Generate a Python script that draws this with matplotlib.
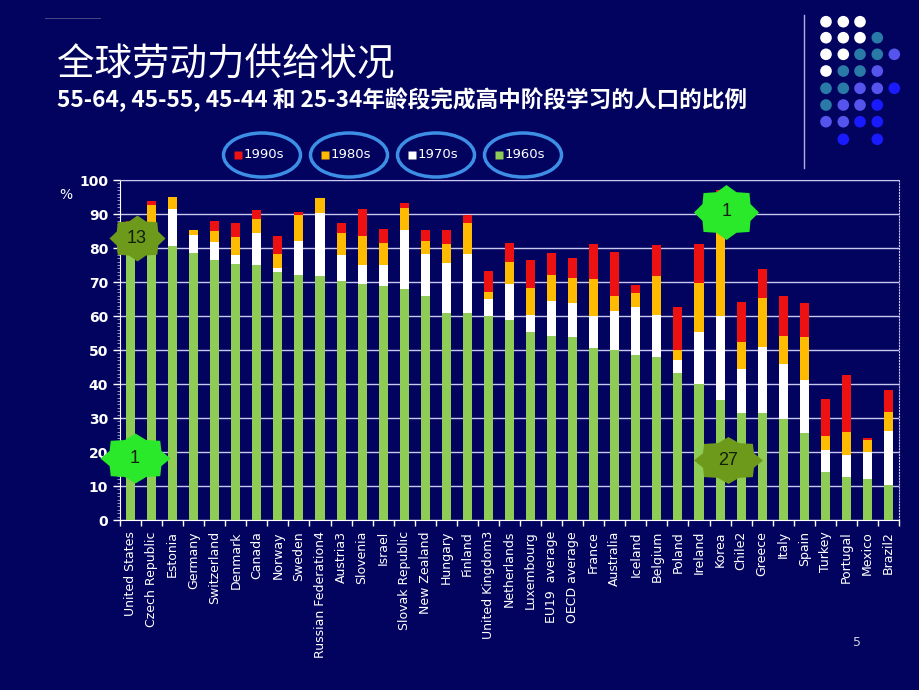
import numpy as np
import matplotlib
matplotlib.use("Agg")
import matplotlib.pyplot as plt
from matplotlib.path import Path
from matplotlib.patches import Ellipse
from matplotlib.ticker import MultipleLocator

plt.rcParams['font.family'] = ['Noto Sans CJK SC', 'DejaVu Sans']

countries = ["United States", "Czech Republic", "Estonia", "Germany", "Switzerland",
             "Denmark", "Canada", "Norway", "Sweden", "Russian Federation4", "Austria3",
             "Slovenia", "Israel", "Slovak Republic", "New Zealand", "Hungary", "Finland",
             "United Kingdom3", "Netherlands", "Luxembourg", "EU19  average", "OECD average",
             "France", "Australia", "Iceland", "Belgium", "Poland", "Ireland", "Korea",
             "Chile2", "Greece", "Italy", "Spain", "Turkey", "Portugal", "Mexico", "Brazil2"]

# share (%) that completed upper secondary, by decade (cumulative top of each colour)
s1960 = [87.0, 87.7, 80.5, 78.4, 76.4, 75.3, 75.0, 73.0, 72.0, 71.7, 70.4, 69.3, 68.8,
         67.8, 66.0, 60.9, 60.9, 59.9, 58.9, 55.2, 54.0, 53.7, 50.6, 49.9, 48.6, 47.9,
         43.2, 40.1, 35.2, 31.4, 31.4, 29.7, 25.5, 14.2, 12.6, 12.1, 10.3]
s1970 = [87.3, 87.7, 91.6, 83.7, 81.8, 77.8, 84.5, 74.1, 82.1, 90.4, 77.8, 74.9, 74.9,
         85.3, 78.1, 75.6, 78.1, 65.0, 69.4, 60.3, 64.3, 63.9, 59.9, 61.4, 62.6, 60.2,
         47.2, 55.3, 59.9, 44.4, 50.8, 46.0, 41.1, 20.6, 19.0, 20.1, 26.3]
s1980 = [87.6, 92.6, 95.0, 85.4, 85.0, 83.2, 88.4, 78.3, 89.6, 94.8, 84.5, 83.5, 81.5,
         91.8, 82.2, 81.3, 87.4, 67.2, 75.8, 68.2, 72.1, 71.1, 70.9, 66.0, 66.8, 71.7,
         50.1, 69.7, 87.0, 52.4, 65.4, 54.0, 53.8, 24.6, 25.8, 23.4, 31.9]
s1990 = [88.0, 93.8, 95.0, 85.4, 87.9, 87.4, 91.1, 83.5, 90.7, 94.8, 87.4, 91.4, 85.7,
         93.3, 85.3, 85.2, 89.6, 73.1, 81.5, 76.6, 78.6, 77.1, 81.3, 78.8, 69.1, 81.0,
         62.6, 81.3, 97.0, 64.1, 73.7, 65.8, 63.9, 35.6, 42.7, 24.0, 38.1]

series = [("1990s", s1990, "#ee1111"), ("1980s", s1980, "#ffbb00"),
          ("1970s", s1970, "#ffffff"), ("1960s", s1960, "#8fcc55")]

# rank badges: (bar index, y value, label, colour, width px, height px)
badges = [(0.3, 82.9, "13", "#6e9a1c", 56, 46),
          (0.2, 18.2, "1", "#2ae82a", 70, 50),
          (28.3, 90.6, "1", "#2ae82a", 65, 55),
          (28.4, 17.6, "27", "#6e9a1c", 69, 47)]

bg = "#02035f"
fig = plt.figure(figsize=(9.2, 6.9), dpi=100, facecolor=bg)

ax = fig.add_axes([120/920, 1-520/690, 779/920, 340/690], facecolor=bg)
x = np.arange(len(countries))
for name, vals, col in series:
    ax.bar(x, vals, width=0.43, color=col, zorder=3)

ax.set_xlim(-0.5, len(countries) - 0.5)
ax.set_ylim(0, 100)
ax.yaxis.set_major_locator(MultipleLocator(10))
ax.yaxis.set_minor_locator(MultipleLocator(1))
ax.grid(axis='y', color="#c8c8f0", lw=1, zorder=1)
ax.set_yticklabels([f"{v:.0f}" for v in ax.get_yticks()], fontweight='bold',
                   family='DejaVu Sans')
ax.tick_params(axis='y', colors='white', labelsize=10, length=5, width=1)
ax.tick_params(axis='y', which='minor', colors='#c8c8f0', length=2, width=0.5)
ax.set_xticks(x)
ax.set_xticklabels(countries, rotation=90, family='DejaVu Sans', fontsize=9,
                   color='white', va='top')
ax.set_xticks(np.arange(len(countries) + 1) - 0.5, minor=True)
ax.tick_params(axis='x', which='major', length=0, pad=8)
ax.tick_params(axis='x', which='minor', length=4, color='white', width=1)
for s in ['left', 'bottom']:
    ax.spines[s].set_color('white')
for s in ['top', 'right']:
    ax.spines[s].set_color('#c8c8f0')
    ax.spines[s].set_linestyle(':')
ax.text(-0.07, 0.955, "%", transform=ax.transAxes, color='white', fontsize=10,
        family='DejaVu Sans', ha='center', va='center')


def star_path(w, h, n=8, inner=0.8):
    ang = np.arange(2 * n) * np.pi / n + np.pi / 2
    r = np.where(np.arange(2 * n) % 2 == 0, 1.0, inner)
    v = np.column_stack([r * np.cos(ang) * w / 2, r * np.sin(ang) * h / 2])
    v = np.vstack([v, v[:1]])
    codes = [Path.MOVETO] + [Path.LINETO] * (2 * n - 1) + [Path.CLOSEPOLY]
    return Path(v, codes)


for bx, by, lab, col, w, h in badges:
    ax.plot([bx], [by], marker=star_path(w, h), markersize=max(w, h) * 0.72,
            color=col, markeredgewidth=0, clip_on=False, zorder=5)
    ax.text(bx, by, lab, ha='center', va='center', fontsize=13, color='#10200a',
            family='Liberation Sans', zorder=6, clip_on=False)

# overlay in pixel coordinates for slide decoration
ov = fig.add_axes([0, 0, 1, 1], facecolor='none')
ov.set_xlim(0, 920)
ov.set_ylim(690, 0)
ov.axis('off')

fig.text(57/920, 1-65/690, "全球劳动力供给状况", color='white', fontsize=27,
         va='center', ha='left')
fig.text(57/920, 1-100/690, "55-64, 45-55, 45-44 和 25-34年龄段完成高中阶段学习的人口的比例",
         color='white', fontsize=16.3, fontweight='bold', va='center', ha='left')

# legend bubbles
leg_cx = [262, 349, 436, 523]
for cx, (name, vals, col) in zip(leg_cx, series):
    ov.add_patch(Ellipse((cx, 155), 77, 44, fill=False, ec="#3d8fe6", lw=2.5))
    ov.plot([cx - 24], [155], marker='s', ms=6, color=col, mec='none')
    ov.text(cx - 18, 155, name, color='white', fontsize=9.5, family='DejaVu Sans',
            va='center', ha='left')

# decorative dots
W, T, B, D = "#ffffff", "#2a7aa8", "#5555ee", "#1a1aff"
dots = [[W, W, W, None, None],
        [W, W, W, T, None],
        [W, W, T, T, B],
        [W, T, T, B, None],
        [T, T, B, B, D],
        [T, B, B, D, None],
        [B, B, D, D, None],
        [None, D, None, D, None]]
col_x = [826, 843.3, 860, 877.3, 894.3]
row_y = [21.7, 37.7, 54.3, 71, 88.3, 105, 121.7, 139.3]
for ry, row in zip(row_y, dots):
    for cx, c in zip(col_x, row):
        if c:
            ov.scatter([cx], [ry], s=70, color=c, edgecolors='none')
ov.plot([804, 804], [15, 168], color="#b0b0e0", lw=1)
ov.plot([45, 100], [18, 18], color="#55558a", lw=0.6)
ov.text(857, 642, "5", color="#d0d0e0", fontsize=9, family='DejaVu Sans',
        ha='center', va='center')

fig.savefig("out.png", dpi=100, facecolor=bg)
